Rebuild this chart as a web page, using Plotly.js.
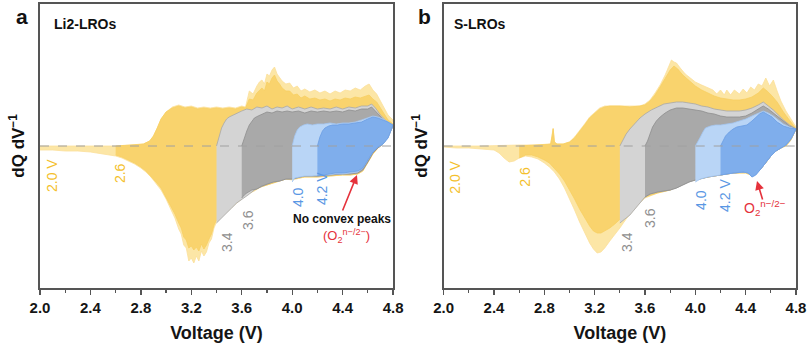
<!DOCTYPE html>
<html>
<head>
<meta charset="utf-8">
<script src="https://cdn.plot.ly/plotly-3.0.1.min.js"></script>
<style>html,body{margin:0;padding:0;background:#fff;}#chart{width:808px;height:352px;}</style>
</head>
<body>
<div id="chart"></div>
<script>
// ---------- Panel a: Li2-LROs (voltage windows: lower cut-off -> 4.8 V) ----------
const A20_chgV = [2.00,2.20,2.40,2.60,2.75,2.82,2.87,2.90,2.93,2.96,3.00,3.05,3.10,3.15,3.20,3.25,3.30,3.35,3.40,3.45,3.50,3.55,3.60,3.63,3.66,3.69,3.72,3.74,3.76,3.78,3.80,3.82,3.84,3.86,3.88,3.90,3.92,3.95,3.98,4.01,4.04,4.07,4.10,4.14,4.18,4.22,4.26,4.30,4.34,4.38,4.42,4.46,4.50,4.54,4.58,4.61,4.64,4.67,4.70,4.73,4.76,4.80];
const A20_chgQ = [0.00,0.00,0.00,0.00,0.01,0.02,0.05,0.10,0.18,0.27,0.34,0.39,0.41,0.39,0.40,0.38,0.39,0.38,0.39,0.38,0.39,0.38,0.40,0.39,0.55,0.52,0.60,0.64,0.66,0.62,0.72,0.70,0.76,0.79,0.72,0.69,0.65,0.62,0.63,0.58,0.60,0.55,0.57,0.54,0.56,0.53,0.55,0.52,0.55,0.53,0.56,0.55,0.58,0.56,0.60,0.62,0.56,0.52,0.45,0.38,0.31,0.26];
const A20_disV = [4.80,4.76,4.72,4.68,4.64,4.60,4.56,4.52,4.46,4.40,4.30,4.20,4.10,4.00,3.95,3.90,3.85,3.80,3.75,3.70,3.65,3.60,3.55,3.50,3.45,3.40,3.38,3.36,3.34,3.32,3.30,3.28,3.26,3.24,3.22,3.20,3.18,3.16,3.14,3.12,3.10,3.07,3.04,3.00,2.96,2.92,2.88,2.84,2.80,2.75,2.70,2.65,2.60,2.50,2.40,2.30,2.20,2.10,2.00];
const A20_disQ = [0.26,0.10,0.02,-0.02,-0.08,-0.17,-0.25,-0.28,-0.29,-0.29,-0.30,-0.31,-0.31,-0.34,-0.33,-0.35,-0.37,-0.39,-0.41,-0.45,-0.48,-0.53,-0.58,-0.64,-0.70,-0.76,-0.82,-0.93,-0.97,-1.06,-1.10,-1.05,-1.15,-1.10,-1.17,-1.12,-1.15,-1.02,-0.99,-0.88,-0.83,-0.72,-0.64,-0.53,-0.44,-0.37,-0.31,-0.26,-0.22,-0.18,-0.15,-0.12,-0.10,-0.08,-0.06,-0.05,-0.05,-0.04,-0.04];

const A26_chgV = [2.60,2.75,2.82,2.87,2.90,2.93,2.96,3.00,3.05,3.10,3.15,3.20,3.25,3.30,3.35,3.40,3.45,3.50,3.55,3.60,3.63,3.66,3.69,3.72,3.74,3.76,3.78,3.80,3.82,3.84,3.86,3.88,3.90,3.92,3.95,3.98,4.01,4.04,4.07,4.10,4.14,4.18,4.22,4.26,4.30,4.34,4.38,4.42,4.46,4.50,4.54,4.58,4.61,4.64,4.67,4.70,4.73,4.76,4.80];
const A26_chgQ = [0.00,0.01,0.02,0.05,0.10,0.18,0.27,0.34,0.38,0.40,0.38,0.39,0.37,0.38,0.37,0.38,0.37,0.38,0.37,0.39,0.38,0.47,0.46,0.53,0.56,0.58,0.55,0.64,0.62,0.68,0.71,0.65,0.62,0.58,0.55,0.55,0.51,0.52,0.48,0.50,0.47,0.48,0.46,0.47,0.45,0.47,0.46,0.48,0.47,0.49,0.48,0.50,0.51,0.47,0.44,0.38,0.32,0.26,0.22];
const A26_disV = [4.80,4.76,4.72,4.68,4.64,4.60,4.56,4.52,4.46,4.40,4.30,4.20,4.10,4.00,3.95,3.90,3.85,3.80,3.75,3.70,3.65,3.60,3.55,3.50,3.45,3.40,3.38,3.36,3.34,3.32,3.30,3.28,3.26,3.24,3.22,3.20,3.18,3.16,3.14,3.12,3.10,3.07,3.04,3.00,2.96,2.92,2.88,2.84,2.80,2.75,2.70,2.65,2.60];
const A26_disQ = [0.22,0.09,0.02,-0.02,-0.08,-0.17,-0.25,-0.28,-0.29,-0.29,-0.30,-0.31,-0.31,-0.33,-0.33,-0.35,-0.37,-0.39,-0.41,-0.44,-0.48,-0.52,-0.57,-0.63,-0.69,-0.74,-0.79,-0.88,-0.93,-0.99,-1.03,-0.98,-1.05,-1.01,-1.04,-1.00,-1.02,-0.94,-0.91,-0.82,-0.77,-0.68,-0.61,-0.51,-0.42,-0.36,-0.30,-0.25,-0.21,-0.17,-0.14,-0.11,-0.09];

const A34_chgV = [3.40,3.42,3.44,3.46,3.48,3.50,3.53,3.56,3.60,3.64,3.68,3.72,3.76,3.80,3.84,3.88,3.92,3.96,4.00,4.05,4.10,4.15,4.20,4.25,4.30,4.35,4.40,4.45,4.50,4.55,4.60,4.63,4.66,4.70,4.74,4.77,4.80];
const A34_chgQ = [0.00,0.10,0.18,0.23,0.27,0.29,0.31,0.33,0.35,0.37,0.36,0.39,0.38,0.40,0.37,0.39,0.38,0.40,0.37,0.39,0.37,0.39,0.37,0.38,0.37,0.39,0.37,0.39,0.38,0.40,0.40,0.42,0.38,0.31,0.26,0.22,0.20];
const A34_disV = [4.80,4.76,4.72,4.68,4.64,4.60,4.56,4.52,4.46,4.40,4.30,4.20,4.10,4.00,3.95,3.90,3.85,3.80,3.75,3.70,3.65,3.60,3.56,3.52,3.48,3.44,3.42,3.40];
const A34_disQ = [0.20,0.09,0.02,-0.02,-0.07,-0.16,-0.24,-0.27,-0.28,-0.28,-0.29,-0.30,-0.30,-0.33,-0.33,-0.35,-0.36,-0.38,-0.41,-0.44,-0.49,-0.53,-0.57,-0.62,-0.67,-0.71,-0.74,-0.77];

const A36_chgV = [3.60,3.62,3.64,3.66,3.68,3.70,3.73,3.76,3.80,3.84,3.88,3.92,3.96,4.00,4.05,4.10,4.15,4.20,4.25,4.30,4.35,4.40,4.45,4.50,4.55,4.60,4.63,4.66,4.70,4.74,4.77,4.80];
const A36_chgQ = [0.00,0.08,0.15,0.21,0.25,0.28,0.30,0.32,0.34,0.33,0.35,0.34,0.35,0.34,0.35,0.33,0.35,0.34,0.35,0.34,0.35,0.34,0.36,0.35,0.37,0.37,0.39,0.35,0.29,0.24,0.21,0.20];
const A36_disV = [4.80,4.76,4.72,4.68,4.64,4.60,4.56,4.52,4.46,4.40,4.30,4.20,4.10,4.00,3.95,3.90,3.85,3.80,3.76,3.72,3.68,3.64,3.62,3.60];
const A36_disQ = [0.20,0.09,0.02,-0.02,-0.07,-0.16,-0.24,-0.27,-0.28,-0.28,-0.29,-0.30,-0.30,-0.33,-0.33,-0.35,-0.36,-0.38,-0.40,-0.43,-0.44,-0.47,-0.49,-0.52];

const A40_chgV = [4.00,4.02,4.04,4.06,4.09,4.12,4.16,4.20,4.25,4.30,4.35,4.40,4.45,4.50,4.55,4.60,4.64,4.68,4.72,4.76,4.80];
const A40_chgQ = [0.00,0.10,0.16,0.19,0.21,0.22,0.21,0.22,0.22,0.23,0.22,0.23,0.23,0.24,0.26,0.28,0.30,0.29,0.27,0.24,0.21];
const A40_disV = [4.80,4.76,4.72,4.68,4.64,4.60,4.56,4.52,4.46,4.40,4.34,4.28,4.22,4.16,4.10,4.06,4.02,4.00];
const A40_disQ = [0.21,0.08,0.02,-0.01,-0.06,-0.14,-0.22,-0.26,-0.27,-0.28,-0.28,-0.29,-0.29,-0.30,-0.30,-0.31,-0.32,-0.36];

const A42_chgV = [4.20,4.22,4.24,4.26,4.29,4.32,4.36,4.40,4.45,4.50,4.55,4.60,4.64,4.68,4.72,4.76,4.80];
const A42_chgQ = [0.00,0.09,0.15,0.18,0.20,0.21,0.21,0.22,0.22,0.23,0.24,0.27,0.29,0.28,0.26,0.24,0.21];
const A42_disV = [4.80,4.76,4.72,4.68,4.64,4.60,4.56,4.52,4.46,4.40,4.34,4.28,4.22,4.20];
const A42_disQ = [0.21,0.08,0.02,-0.01,-0.06,-0.14,-0.22,-0.25,-0.26,-0.27,-0.27,-0.28,-0.29,-0.30];

// ---------- Panel b: S-LROs ----------
const B20_chgV = [2.00,2.30,2.60,2.80,2.85,2.86,2.87,2.88,2.90,2.95,3.00,3.04,3.08,3.12,3.16,3.20,3.24,3.28,3.32,3.40,3.48,3.56,3.60,3.64,3.68,3.72,3.76,3.79,3.81,3.83,3.85,3.88,3.92,3.96,4.00,4.05,4.10,4.14,4.17,4.20,4.23,4.25,4.28,4.31,4.35,4.38,4.41,4.44,4.47,4.50,4.53,4.56,4.59,4.62,4.65,4.68,4.72,4.76,4.80];
const B20_chgQ = [0.00,0.00,0.01,0.01,0.02,0.09,0.18,0.04,0.02,0.02,0.04,0.09,0.15,0.22,0.29,0.34,0.38,0.40,0.40,0.40,0.40,0.40,0.42,0.46,0.53,0.61,0.71,0.80,0.86,0.84,0.83,0.78,0.72,0.68,0.64,0.61,0.58,0.56,0.52,0.56,0.51,0.56,0.51,0.56,0.52,0.57,0.53,0.59,0.56,0.62,0.60,0.68,0.60,0.66,0.55,0.45,0.35,0.27,0.19];
const B20_disV = [4.80,4.76,4.72,4.68,4.64,4.60,4.56,4.52,4.48,4.44,4.40,4.30,4.20,4.10,4.00,3.95,3.90,3.85,3.80,3.70,3.60,3.55,3.50,3.45,3.40,3.36,3.32,3.28,3.25,3.22,3.19,3.16,3.12,3.08,3.04,3.00,2.96,2.92,2.88,2.84,2.80,2.75,2.70,2.65,2.60,2.56,2.52,2.48,2.44,2.40,2.30,2.20,2.10,2.00];
const B20_disQ = [0.17,0.06,0.00,-0.02,-0.05,-0.10,-0.17,-0.23,-0.28,-0.29,-0.27,-0.27,-0.29,-0.31,-0.34,-0.35,-0.38,-0.41,-0.44,-0.47,-0.52,-0.58,-0.65,-0.73,-0.82,-0.88,-0.95,-1.02,-1.06,-1.07,-1.03,-0.97,-0.87,-0.76,-0.64,-0.53,-0.42,-0.33,-0.26,-0.21,-0.17,-0.13,-0.11,-0.10,-0.12,-0.15,-0.16,-0.12,-0.07,-0.04,-0.03,-0.02,-0.02,-0.01];

const B26_chgV = [2.60,2.80,2.85,2.86,2.87,2.88,2.90,2.95,3.00,3.04,3.08,3.12,3.16,3.20,3.24,3.28,3.32,3.40,3.48,3.56,3.60,3.64,3.68,3.72,3.76,3.80,3.83,3.86,3.90,3.95,4.00,4.05,4.10,4.15,4.20,4.25,4.30,4.35,4.40,4.45,4.50,4.54,4.57,4.61,4.65,4.70,4.75,4.80];
const B26_chgQ = [0.00,0.01,0.02,0.09,0.17,0.04,0.02,0.02,0.04,0.08,0.14,0.21,0.28,0.33,0.37,0.39,0.40,0.40,0.39,0.40,0.41,0.45,0.51,0.59,0.68,0.76,0.80,0.77,0.71,0.65,0.60,0.56,0.53,0.50,0.48,0.47,0.46,0.46,0.47,0.49,0.53,0.58,0.55,0.50,0.44,0.34,0.26,0.18];
const B26_disV = [4.80,4.76,4.72,4.68,4.64,4.60,4.56,4.52,4.48,4.44,4.40,4.30,4.20,4.10,4.00,3.95,3.90,3.85,3.80,3.70,3.60,3.55,3.50,3.45,3.40,3.36,3.32,3.28,3.25,3.22,3.19,3.16,3.12,3.08,3.04,3.00,2.96,2.92,2.88,2.84,2.80,2.75,2.70,2.65,2.60];
const B26_disQ = [0.17,0.06,0.00,-0.02,-0.05,-0.10,-0.17,-0.23,-0.28,-0.29,-0.27,-0.27,-0.29,-0.31,-0.34,-0.35,-0.38,-0.41,-0.44,-0.47,-0.51,-0.56,-0.62,-0.68,-0.74,-0.78,-0.82,-0.85,-0.87,-0.87,-0.85,-0.80,-0.72,-0.63,-0.53,-0.44,-0.35,-0.28,-0.22,-0.17,-0.14,-0.11,-0.09,-0.09,-0.12];

const B34_chgV = [3.40,3.42,3.45,3.48,3.52,3.56,3.60,3.65,3.70,3.75,3.80,3.85,3.90,3.95,4.00,4.05,4.10,4.15,4.20,4.25,4.30,4.35,4.40,4.45,4.50,4.54,4.58,4.62,4.66,4.70,4.75,4.80];
const B34_chgQ = [0.00,0.05,0.12,0.17,0.23,0.28,0.32,0.36,0.39,0.42,0.43,0.44,0.44,0.43,0.42,0.40,0.39,0.37,0.36,0.35,0.35,0.35,0.36,0.38,0.41,0.44,0.40,0.36,0.31,0.26,0.21,0.17];
const B34_disV = [4.80,4.76,4.72,4.68,4.64,4.60,4.56,4.52,4.48,4.44,4.40,4.30,4.20,4.10,4.00,3.95,3.90,3.85,3.80,3.70,3.64,3.60,3.56,3.52,3.48,3.44,3.40];
const B34_disQ = [0.17,0.07,0.01,-0.02,-0.05,-0.10,-0.17,-0.23,-0.28,-0.28,-0.26,-0.27,-0.29,-0.31,-0.34,-0.36,-0.39,-0.42,-0.44,-0.46,-0.48,-0.51,-0.57,-0.63,-0.69,-0.73,-0.77];

const B36_chgV = [3.60,3.62,3.64,3.66,3.69,3.72,3.76,3.80,3.85,3.90,3.95,4.00,4.05,4.10,4.15,4.20,4.25,4.30,4.35,4.40,4.45,4.50,4.54,4.58,4.62,4.66,4.70,4.75,4.80];
const B36_chgQ = [0.00,0.05,0.12,0.19,0.25,0.29,0.33,0.36,0.38,0.38,0.37,0.36,0.35,0.33,0.32,0.30,0.29,0.29,0.29,0.30,0.33,0.37,0.40,0.37,0.33,0.29,0.25,0.20,0.17];
const B36_disV = [4.80,4.76,4.72,4.68,4.64,4.60,4.56,4.52,4.48,4.44,4.40,4.30,4.20,4.10,4.00,3.95,3.90,3.85,3.80,3.70,3.64,3.60];
const B36_disQ = [0.17,0.07,0.01,-0.02,-0.05,-0.10,-0.17,-0.23,-0.28,-0.28,-0.26,-0.27,-0.29,-0.31,-0.34,-0.36,-0.39,-0.42,-0.44,-0.46,-0.48,-0.51];

const B40_chgV = [4.00,4.02,4.04,4.06,4.08,4.12,4.16,4.20,4.25,4.30,4.35,4.40,4.45,4.50,4.54,4.58,4.62,4.66,4.70,4.75,4.80];
const B40_chgQ = [0.00,0.04,0.09,0.14,0.18,0.20,0.21,0.21,0.22,0.23,0.25,0.27,0.30,0.33,0.35,0.33,0.30,0.26,0.22,0.19,0.17];
const B40_disV = [4.80,4.76,4.72,4.68,4.64,4.60,4.56,4.52,4.48,4.45,4.42,4.38,4.30,4.20,4.10,4.04,4.00];
const B40_disQ = [0.17,0.07,0.01,-0.02,-0.05,-0.10,-0.17,-0.23,-0.29,-0.31,-0.27,-0.26,-0.27,-0.29,-0.31,-0.33,-0.36];

const B42_chgV = [4.20,4.22,4.24,4.27,4.30,4.33,4.37,4.41,4.45,4.48,4.51,4.54,4.57,4.61,4.65,4.70,4.75,4.80];
const B42_chgQ = [0.00,0.05,0.10,0.14,0.17,0.19,0.20,0.21,0.25,0.29,0.32,0.34,0.32,0.29,0.24,0.20,0.18,0.17];
const B42_disV = [4.80,4.76,4.72,4.68,4.64,4.60,4.56,4.52,4.48,4.45,4.42,4.38,4.30,4.24,4.20];
const B42_disQ = [0.17,0.07,0.01,-0.02,-0.05,-0.10,-0.17,-0.23,-0.29,-0.31,-0.27,-0.26,-0.27,-0.28,-0.29];

const V_RANGE = [2.0, 4.8];
const X_TICKS = [2.0, 2.4, 2.8, 3.2, 3.6, 4.0, 4.4, 4.8];
const X_TICKTEXT = ['2.0','2.4','2.8','3.2','3.6','4.0','4.4','4.8'];
const ZERO = [0, 0];

// ---------- styles ----------
const FONT = "Arial, 'Liberation Sans', sans-serif";
const STY = {
  y20: {fill:'#FCE6A6', line:'#FBE09A'},
  y26: {fill:'#F9D36D', line:'#F8CF62'},
  g34: {fill:'#D4D4D4', line:'#A8A8A8'},
  g36: {fill:'#A9A9A9', line:'#8E8E8E'},
  b40: {fill:'#B9D5F6', line:'#A3C5F0'},
  b42: {fill:'#7FAEEC', line:'#6A9DE3'}
};
const C_Y = '#F4BF2C', C_G = '#8F8F8F', C_B = '#5A97E4', C_R = '#E5323C';

function loop(cv, cq, dv, dq, st, xa, ya) {
  return {type:'scatter', mode:'lines', x: cv.concat(dv), y: cq.concat(dq),
    fill:'toself', fillcolor: st.fill, line:{color: st.line, width: 0.8},
    xaxis: xa, yaxis: ya, hoverinfo:'skip', showlegend:false};
}
function zeroLine(xa, ya) {
  return {type:'scatter', mode:'lines', x: V_RANGE, y: ZERO, xaxis: xa, yaxis: ya,
    line:{color:'#A0A0A0', width:1, dash:'dash'}, hoverinfo:'skip', showlegend:false};
}

const traces = [
  loop(A20_chgV, A20_chgQ, A20_disV, A20_disQ, STY.y20, 'x', 'y'),
  loop(A26_chgV, A26_chgQ, A26_disV, A26_disQ, STY.y26, 'x', 'y'),
  loop(A34_chgV, A34_chgQ, A34_disV, A34_disQ, STY.g34, 'x', 'y'),
  loop(A36_chgV, A36_chgQ, A36_disV, A36_disQ, STY.g36, 'x', 'y'),
  loop(A40_chgV, A40_chgQ, A40_disV, A40_disQ, STY.b40, 'x', 'y'),
  loop(A42_chgV, A42_chgQ, A42_disV, A42_disQ, STY.b42, 'x', 'y'),
  zeroLine('x', 'y'),
  loop(B20_chgV, B20_chgQ, B20_disV, B20_disQ, STY.y20, 'x2', 'y2'),
  loop(B26_chgV, B26_chgQ, B26_disV, B26_disQ, STY.y26, 'x2', 'y2'),
  loop(B34_chgV, B34_chgQ, B34_disV, B34_disQ, STY.g34, 'x2', 'y2'),
  loop(B36_chgV, B36_chgQ, B36_disV, B36_disQ, STY.g36, 'x2', 'y2'),
  loop(B40_chgV, B40_chgQ, B40_disV, B40_disQ, STY.b40, 'x2', 'y2'),
  loop(B42_chgV, B42_chgQ, B42_disV, B42_disQ, STY.b42, 'x2', 'y2'),
  zeroLine('x2', 'y2')
];

function xAxis(domain) {
  return {domain: domain, range: V_RANGE, tickmode:'array', tickvals: X_TICKS, ticktext: X_TICKTEXT,
    ticks:'outside', ticklen:5, tickwidth:1.3, tickcolor:'#555',
    minor:{dtick:0.2, tick0:2.0, ticks:'outside', ticklen:3, tickwidth:1.2, tickcolor:'#555', showgrid:false},
    showline:true, linecolor:'#555', linewidth:1.6, mirror:true, showgrid:false, zeroline:false,
    tickfont:{family:FONT, size:15, color:'#151515', weight:'bold'},
    title:{text:'Voltage (V)', font:{family:FONT, size:18, color:'#151515', weight:'bold'}, standoff:12},
    fixedrange:true};
}
function yAxis(anchor) {
  return {anchor: anchor, range:[-1.42, 1.42], showticklabels:false, ticks:'', showline:true,
    linecolor:'#555', linewidth:1.6, mirror:true, showgrid:false, zeroline:false, fixedrange:true};
}

function rot(text, x, y, color, xref, yref, size, bold) {
  return {text:text, x:x, y:y, xref:xref, yref:yref, showarrow:false, textangle:-90,
    xanchor:'center', yanchor:'middle', font:{family:FONT, size:size||14, color:color, weight: bold ? 'bold' : 'normal'}};
}
function plain(text, x, y, xref, yref, size, color, bold) {
  return {text:text, x:x, y:y, xref:xref, yref:yref, showarrow:false, xanchor:'center', yanchor:'middle',
    font:{family:FONT, size:size, color:color, weight: bold ? 'bold' : 'normal'}};
}
function arrow(x, y, ax, ay, xref, yref) {
  return {text:'', x:x, y:y, ax:ax, ay:ay, xref:xref, yref:yref, axref:xref, ayref:yref,
    showarrow:true, arrowhead:2, arrowsize:1.1, arrowwidth:1.6, arrowcolor:C_R};
}

const annotations = [
  // panel a
  plain('a', -0.052, 0.955, 'x domain', 'y domain', 21, '#111', true),
  plain('Li2-LROs', 0.128, 0.928, 'x domain', 'y domain', 14, '#111', true),
  rot('dQ dV<sup>−1</sup>', -0.066, 0.5, '#111', 'x domain', 'y domain', 17, true),
  rot('2.0 V', 2.095, -0.29, C_Y, 'x', 'y'),
  rot('2.6', 2.635, -0.27, C_Y, 'x', 'y'),
  rot('3.4', 3.483, -0.96, C_G, 'x', 'y'),
  rot('3.6', 3.650, -0.74, C_G, 'x', 'y'),
  rot('4.0', 4.047, -0.51, C_B, 'x', 'y'),
  rot('4.2 V', 4.237, -0.43, C_B, 'x', 'y'),
  plain('No convex peaks', 4.395, -0.73, 'x', 'y', 12, '#111', true),
  plain('(O<sub>2</sub><sup>n−/2−</sup>)', 4.43, -0.90, 'x', 'y', 13, C_R, false),
  arrow(4.514, -0.29, 4.395, -0.66, 'x', 'y'),
  // panel b
  plain('b', -0.055, 0.955, 'x2 domain', 'y2 domain', 21, '#111', true),
  plain('S-LROs', 0.103, 0.928, 'x2 domain', 'y2 domain', 14, '#111', true),
  rot('dQ dV<sup>−1</sup>', -0.068, 0.5, '#111', 'x2 domain', 'y2 domain', 17, true),
  rot('2.0 V', 2.088, -0.31, C_Y, 'x2', 'y2'),
  rot('2.6', 2.644, -0.31, C_Y, 'x2', 'y2'),
  rot('3.4', 3.456, -0.96, C_G, 'x2', 'y2'),
  rot('3.6', 3.639, -0.72, C_G, 'x2', 'y2'),
  rot('4.0', 4.044, -0.54, C_B, 'x2', 'y2'),
  rot('4.2 V', 4.235, -0.49, C_B, 'x2', 'y2'),
  plain('O<sub>2</sub><sup>n−/2−</sup>', 4.55, -0.62, 'x2', 'y2', 14, C_R, false),
  arrow(4.49, -0.35, 4.538, -0.55, 'x2', 'y2')
];

const layout = {
  width:808, height:352,
  margin:{l:40, r:12, t:4, b:64},
  paper_bgcolor:'#ffffff', plot_bgcolor:'#ffffff',
  showlegend:false,
  xaxis: xAxis([0, 0.467]),
  yaxis: yAxis('x'),
  xaxis2: xAxis([0.534, 1]),
  yaxis2: yAxis('x2'),
  annotations: annotations,
  font:{family:FONT}
};

Plotly.newPlot('chart', traces, layout, {displayModeBar:false, staticPlot:true});
</script>
</body>
</html>
